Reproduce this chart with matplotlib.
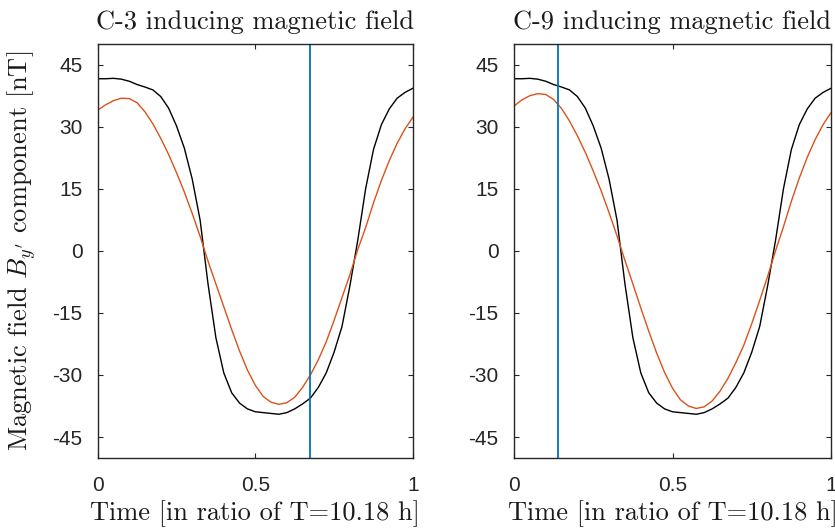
import numpy as np
import matplotlib
matplotlib.use("Agg")
import matplotlib.pyplot as plt

plt.rcParams['mathtext.fontset'] = 'cm'
plt.rcParams['axes.unicode_minus'] = False
plt.rcParams['axes.formatter.use_mathtext'] = False

# time grid (ratio of period)
t = [0.000, 0.025, 0.050, 0.075, 0.100, 0.125, 0.150, 0.175, 0.200, 0.225,
     0.250, 0.275, 0.300, 0.325, 0.350, 0.375, 0.400, 0.425, 0.450, 0.475,
     0.500, 0.525, 0.550, 0.575, 0.600, 0.625, 0.650, 0.675, 0.700, 0.725,
     0.750, 0.775, 0.800, 0.825, 0.850, 0.875, 0.900, 0.925, 0.950, 0.975,
     1.000]

# observed field (black), same in both panels
observed = [41.6, 41.6, 41.7, 41.5, 41.0, 40.2, 39.6, 38.9, 37.3, 34.5,
            30.2, 24.8, 17.3, 7.4, -8.0, -21.0, -29.5, -34.3, -36.8, -38.2,
            -38.9, -39.1, -39.3, -39.5, -39.1, -38.2, -37.0, -35.6, -33.0, -29.5,
            -24.5, -18.3, -8.5, 2.5, 15.0, 24.5, 30.5, 34.3, 36.9, 38.3,
            39.3]

# model field C-3 (orange, left)
model_c3 = [34.0, 35.3, 36.3, 36.9, 36.8, 35.8, 33.6, 30.7, 27.2, 23.3,
            18.9, 14.2, 9.0, 3.5, -2.5, -8.0, -13.5, -19.0, -24.2, -28.8,
            -32.5, -35.2, -36.6, -37.1, -36.7, -35.4, -33.0, -30.0, -26.3, -22.0,
            -16.8, -11.3, -5.8, 0.3, 5.6, 11.6, 17.0, 21.8, 26.0, 29.5,
            32.3]

# model field C-9 (orange, right)
model_c9 = [35.0, 36.5, 37.5, 38.0, 37.8, 36.6, 34.4, 31.4, 27.8, 23.8,
            19.3, 14.5, 9.2, 3.6, -2.3, -8.0, -13.8, -19.4, -24.7, -29.4,
            -33.2, -36.0, -37.5, -38.1, -37.7, -36.3, -33.9, -30.8, -27.0, -22.8,
            -17.6, -12.0, -6.2, 0.0, 5.8, 12.0, 17.6, 22.6, 26.9, 30.5,
            33.4]

marker_time = [0.673, 0.140]
titles = ["C-3 inducing magnetic field", "C-9 inducing magnetic field"]
yticks = [-45, -30, -15, 0, 15, 30, 45]
xticks = [0, 0.5, 1]
xticklabels = ["0", "0.5", "1"]

BLUE = "#0072BD"
ORANGE = "#D95319"
AX = "#262626"
TXT = "#1a1a1a"

fig = plt.figure(figsize=(8.35, 5.28), dpi=100)
W, H = 835, 528
positions = [(97.7, 412.9), (514.0, 831.0)]
top_px, bot_px = 44.0, 457.7

for i, (x0, x1) in enumerate(positions):
    ax = fig.add_axes([x0 / W, 1 - bot_px / H, (x1 - x0) / W, (bot_px - top_px) / H])
    model = model_c3 if i == 0 else model_c9
    ax.plot(t, observed, color="black", lw=1.0, solid_joinstyle="round")
    ax.plot(t, model, color=ORANGE, lw=1.0, solid_joinstyle="round")
    ax.axvline(marker_time[i], color=BLUE, lw=1.3)
    ax.set_xlim(0, 1)
    ax.set_ylim(-50, 50)
    ax.set_yticks(yticks)
    ax.set_xticks(xticks)
    ax.set_xticklabels(xticklabels)
    for s in ax.spines.values():
        s.set_color(AX)
        s.set_linewidth(1.0)
    ax.tick_params(direction="in", length=3.5, width=0.8, color=AX,
                   top=True, right=True, labelcolor=AX, labelsize=15)
    ax.tick_params(axis="y", pad=11)
    ax.tick_params(axis="x", pad=13)
    for lab in ax.get_xticklabels() + ax.get_yticklabels():
        lab.set_fontfamily("Liberation Sans")
    ax.set_title(titles[i], fontfamily="cmr10", fontsize=19, color=TXT, pad=11)
    ax.set_xlabel("Time [in ratio of T=10.18 h]", fontfamily="cmr10", fontsize=19,
                  color=TXT)
    ax.xaxis.set_label_coords(0.5, -0.103)
    if i == 0:
        ax.set_ylabel("Magnetic field $B_{y'}$ component [nT]", fontfamily="cmr10",
                      fontsize=19, color=TXT)
        ax.yaxis.set_label_coords(-0.19, 0.5)

fig.savefig("out.png", dpi=100)
